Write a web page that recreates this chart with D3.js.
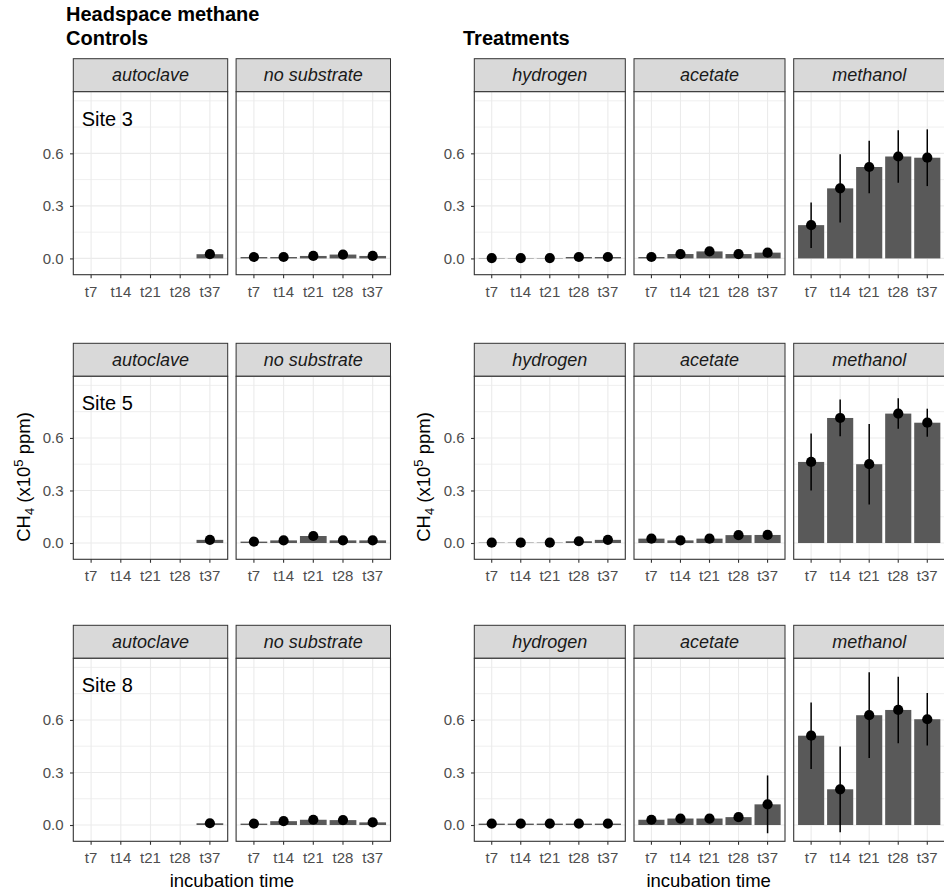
<!DOCTYPE html>
<html>
<head>
<meta charset="utf-8">
<script src="https://cdn.jsdelivr.net/npm/d3@7"></script>
<style>
  body { margin: 0; background: #fff; }
  svg { display: block; font-family: "Liberation Sans", Arial, sans-serif; }
</style>
</head>
<body>
<script>
// incubation times + facets
var times = ['t7', 't14', 't21', 't28', 't37'];
var sites = ['Site 3', 'Site 5', 'Site 8'];
var controls = ['autoclave', 'no substrate'];
var treatments = ['hydrogen', 'acetate', 'methanol'];
var yTicks = [0, 0.3, 0.6];
var yGrid = [0, 0.15, 0.3, 0.45, 0.6, 0.75, 0.9];

// mean CH4 (x10^5 ppm), one row per site (3, 5, 8)
var autoclaveMean = [
  [null, null, null, null, 0.024],
  [null, null, null, null, 0.018],
  [null, null, null, null, 0.010]
];
var autoclaveSd = [
  [null, null, null, null, 0.006],
  [null, null, null, null, 0.004],
  [null, null, null, null, 0.003]
];
var noSubMean = [
  [0.008, 0.008, 0.014, 0.022, 0.014],
  [0.008, 0.015, 0.040, 0.015, 0.015],
  [0.008, 0.022, 0.030, 0.028, 0.015]
];
var noSubSd = [
  [0.003, 0.003, 0.004, 0.006, 0.004],
  [0.003, 0.004, 0.006, 0.004, 0.004],
  [0.003, 0.005, 0.006, 0.006, 0.004]
];
var hydrogenMean = [
  [0.002, 0.002, 0.002, 0.008, 0.008],
  [0.002, 0.002, 0.002, 0.010, 0.018],
  [0.008, 0.008, 0.008, 0.008, 0.008]
];
var hydrogenSd = [
  [0.001, 0.001, 0.001, 0.003, 0.003],
  [0.001, 0.001, 0.001, 0.003, 0.005],
  [0.002, 0.002, 0.002, 0.002, 0.002]
];
var acetateMean = [
  [0.008, 0.025, 0.040, 0.025, 0.033],
  [0.025, 0.015, 0.025, 0.045, 0.046],
  [0.030, 0.037, 0.037, 0.045, 0.118]
];
var acetateSd = [
  [0.003, 0.006, 0.008, 0.006, 0.007],
  [0.006, 0.004, 0.006, 0.008, 0.008],
  [0.012, 0.008, 0.008, 0.008, 0.165]
];
var methanolMean = [
  [0.190, 0.400, 0.522, 0.582, 0.575],
  [0.463, 0.714, 0.450, 0.739, 0.687],
  [0.510, 0.204, 0.627, 0.657, 0.604]
];
var methanolSd = [
  [0.130, 0.195, 0.150, 0.150, 0.162],
  [0.163, 0.105, 0.230, 0.087, 0.080],
  [0.190, 0.245, 0.245, 0.190, 0.150]
];

var series = {
  'autoclave': [autoclaveMean, autoclaveSd],
  'no substrate': [noSubMean, noSubSd],
  'hydrogen': [hydrogenMean, hydrogenSd],
  'acetate': [acetateMean, acetateSd],
  'methanol': [methanolMean, methanolSd]
};

var W = 944, H = 892,
    rowTop = [58.7, 343.3, 625.3],
    stripH = 33, panelH = 183,
    ctrl = {left: 73.3, w: 154.4, gap: 8.4},
    trt = {left: 474.3, w: 151, gap: 8.7};

var svg = d3.select('body').append('svg')
  .attr('width', W).attr('height', H);

var y = d3.scaleLinear().domain([-0.093, 0.952]).range([panelH, 0]);

function drawPanel(g, w, name, site, showY, showSite) {
  var mean = series[name][0][site], sd = series[name][1][site];
  var rows = times.map(function (t, i) { return {t: t, m: mean[i], s: sd[i]}; })
    .filter(function (d) { return d.m != null; });

  var x = d3.scaleBand().domain(times).range([0, w])
    .paddingInner(0.1).paddingOuter(0.15);

  // strip
  g.append('rect').attr('width', w).attr('height', stripH)
    .attr('fill', '#d9d9d9').attr('stroke', '#333').attr('stroke-width', 1);
  g.append('text').attr('x', w / 2).attr('y', stripH / 2)
    .attr('dy', '0.35em').attr('text-anchor', 'middle')
    .style('font-size', '18px').style('font-style', 'italic').attr('fill', '#1a1a1a')
    .text(name);

  var p = g.append('g').attr('transform', 'translate(0,' + stripH + ')');
  p.append('rect').attr('width', w).attr('height', panelH).attr('fill', '#fff');

  p.selectAll('.hgrid').data(yGrid).enter().append('line')
    .attr('x1', 0).attr('x2', w)
    .attr('y1', function (d) { return y(d); }).attr('y2', function (d) { return y(d); })
    .attr('stroke', '#ebebeb')
    .attr('stroke-width', function (d) { return yTicks.indexOf(d) >= 0 ? 1.1 : 0.8; });
  p.selectAll('.vgrid').data(times).enter().append('line')
    .attr('x1', function (d) { return x(d) + x.bandwidth() / 2; })
    .attr('x2', function (d) { return x(d) + x.bandwidth() / 2; })
    .attr('y1', 0).attr('y2', panelH)
    .attr('stroke', '#ebebeb').attr('stroke-width', 1.1);

  p.selectAll('.bar').data(rows).enter().append('rect')
    .attr('x', function (d) { return x(d.t); })
    .attr('width', x.bandwidth())
    .attr('y', function (d) { return y(d.m); })
    .attr('height', function (d) { return y(0) - y(d.m); })
    .attr('fill', '#595959');

  p.selectAll('.err').data(rows).enter().append('line')
    .attr('x1', function (d) { return x(d.t) + x.bandwidth() / 2; })
    .attr('x2', function (d) { return x(d.t) + x.bandwidth() / 2; })
    .attr('y1', function (d) { return y(d.m - d.s); })
    .attr('y2', function (d) { return y(d.m + d.s); })
    .attr('stroke', '#000').attr('stroke-width', 1.5);

  p.selectAll('.pt').data(rows).enter().append('circle')
    .attr('cx', function (d) { return x(d.t) + x.bandwidth() / 2; })
    .attr('cy', function (d) { return y(d.m); })
    .attr('r', 5.1).attr('fill', '#000');

  if (showSite) {
    p.append('text').attr('x', 8.4).attr('y', y(0.8))
      .attr('dy', '0.36em').style('font-size', '20px').attr('fill', '#000')
      .text(sites[site]);
  }

  p.append('rect').attr('width', w).attr('height', panelH)
    .attr('fill', 'none').attr('stroke', '#333').attr('stroke-width', 1.1);

  var xa = p.append('g').attr('transform', 'translate(0,' + panelH + ')')
    .call(d3.axisBottom(x).tickSize(3.5).tickPadding(8));
  xa.select('.domain').remove();
  xa.selectAll('line').attr('stroke', '#333').attr('stroke-width', 1.1);
  xa.selectAll('text').attr('fill', '#4d4d4d').style('font-size', '15px')
    .style('font-family', '"Liberation Sans", Arial, sans-serif');

  if (showY) {
    var ya = p.append('g')
      .call(d3.axisLeft(y).tickValues(yTicks).tickFormat(d3.format('.1f'))
        .tickSize(3.3).tickPadding(6.5));
    ya.select('.domain').remove();
    ya.selectAll('line').attr('stroke', '#333').attr('stroke-width', 1.1);
    ya.selectAll('text').attr('fill', '#4d4d4d').style('font-size', '15px')
      .style('font-family', '"Liberation Sans", Arial, sans-serif');
  }
}

sites.forEach(function (s, si) {
  controls.forEach(function (c, ci) {
    var g = svg.append('g')
      .attr('transform', 'translate(' + (ctrl.left + ci * (ctrl.w + ctrl.gap)) + ',' + rowTop[si] + ')');
    drawPanel(g, ctrl.w, c, si, ci === 0, ci === 0);
  });
  treatments.forEach(function (t, ti) {
    var g = svg.append('g')
      .attr('transform', 'translate(' + (trt.left + ti * (trt.w + trt.gap)) + ',' + rowTop[si] + ')');
    drawPanel(g, trt.w, t, si, ti === 0, false);
  });
});

// titles
svg.append('text').attr('x', 66).attr('y', 20.7)
  .style('font-size', '20px').style('font-weight', 'bold').text('Headspace methane');
svg.append('text').attr('x', 66).attr('y', 45)
  .style('font-size', '20px').style('font-weight', 'bold').text('Controls');
svg.append('text').attr('x', 463).attr('y', 45)
  .style('font-size', '20px').style('font-weight', 'bold').text('Treatments');

// axis titles
[ctrl, trt].forEach(function (sec, k) {
  var n = k === 0 ? controls.length : treatments.length;
  var right = sec.left + n * sec.w + (n - 1) * sec.gap;
  svg.append('text')
    .attr('x', (sec.left + Math.min(right, k === 0 ? right : 943)) / 2).attr('y', 887)
    .attr('text-anchor', 'middle').style('font-size', '18.5px').attr('fill', '#000')
    .text('incubation time');

  var lab = svg.append('text')
    .attr('transform', 'translate(' + (k === 0 ? 29.5 : 429.5) + ',477) rotate(-90)')
    .attr('text-anchor', 'middle').style('font-size', '18.5px').attr('fill', '#000');
  lab.append('tspan').text('CH');
  lab.append('tspan').attr('dy', 4).style('font-size', '13px').text('4');
  lab.append('tspan').attr('dy', -4).text(' (x10');
  lab.append('tspan').attr('dy', -7).style('font-size', '13px').text('5');
  lab.append('tspan').attr('dy', 7).text(' ppm)');
});
</script>
</body>
</html>
